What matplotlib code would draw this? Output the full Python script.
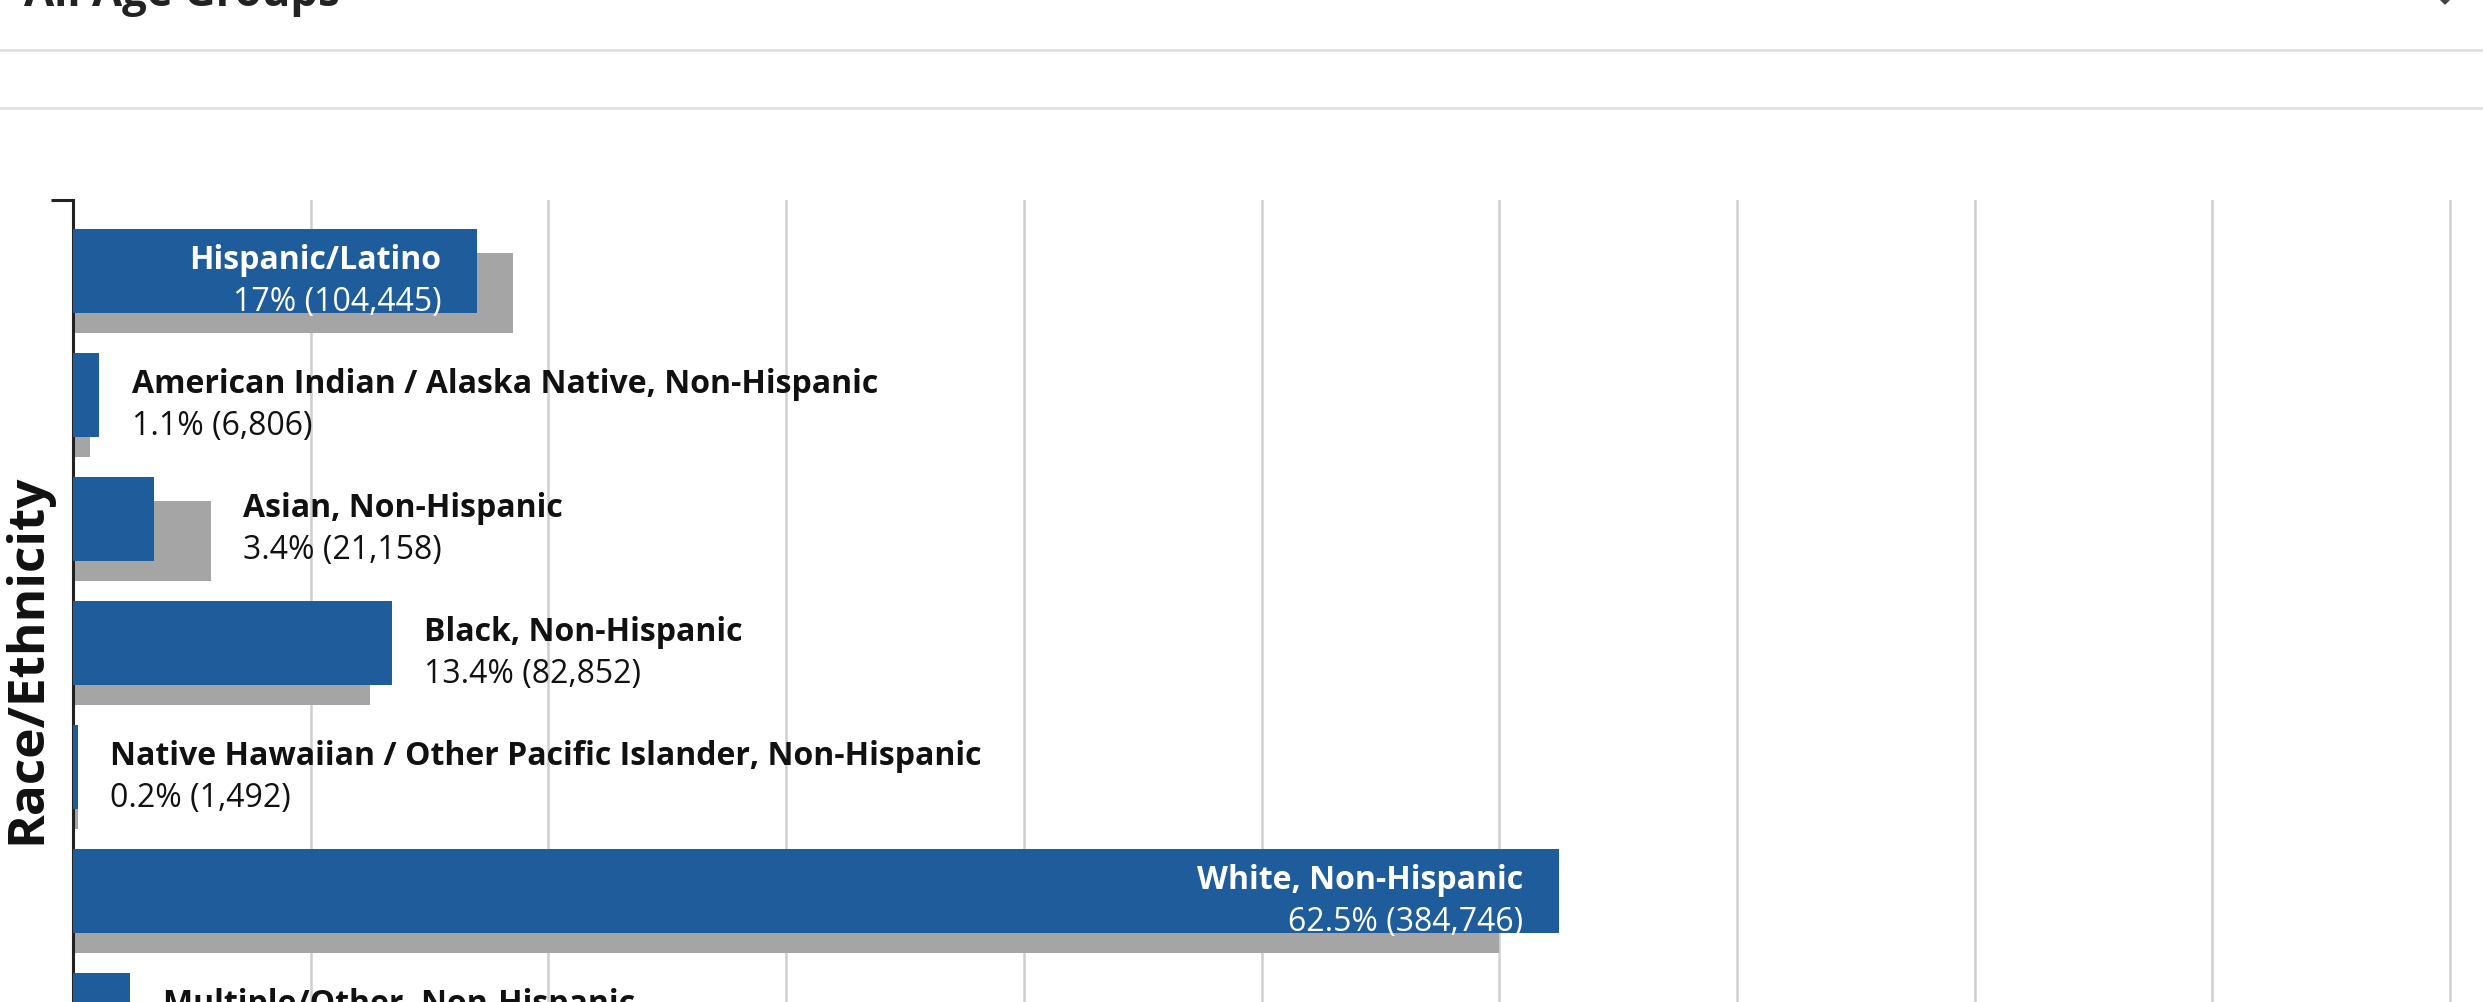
import matplotlib
matplotlib.use("Agg")
import matplotlib.pyplot as plt
from matplotlib.lines import Line2D
from matplotlib.patches import Polygon

# ---- data ----
categories = [
    "Hispanic/Latino",
    "American Indian / Alaska Native, Non-Hispanic",
    "Asian, Non-Hispanic",
    "Black, Non-Hispanic",
    "Native Hawaiian / Other Pacific Islander, Non-Hispanic",
    "White, Non-Hispanic",
    "Multiple/Other, Non-Hispanic",
]
pct = [17, 1.1, 3.4, 13.4, 0.2, 62.5, 2.4]
counts = [104445, 6806, 21158, 82852, 1492, 384746, 14100]
reference_pct = [18.5, 0.7, 5.8, 12.5, 0.2, 60.0, 2.2]
x_ticks = list(range(10, 101, 10))

BLUE = "#1F5C9B"
GRAY = "#A5A5A5"
TXT = "#111111"

plt.rcParams['font.family'] = ['Open Sans', 'DejaVu Sans']

W, H = 2483, 1003
fig = plt.figure(figsize=(W / 100, H / 100), dpi=100)

px_per_pct = 23.77
ax_left = 73
ax_top = 201
xmax = 101
ax_w = xmax * px_per_pct
ax = fig.add_axes([ax_left / W, 0, ax_w / W, 1 - ax_top / H])

row_px = 124.0
ax.set_ylim((H - ax_top) / row_px, 0)
ax.set_xlim(0, xmax)

n = len(categories)
rows = list(range(n))
ax.barh([r + 0.75 for r in rows], reference_pct, height=0.645, color=GRAY, zorder=2)
ax.barh([r + 0.573 for r in rows], pct, height=0.677, color=BLUE, zorder=3)

ax.set_xticks(x_ticks)
ax.set_xticklabels([])
ax.tick_params(axis='x', length=0)
ax.grid(axis='x', color='#cfcfcf', linewidth=1.8)
ax.set_axisbelow(True)

for s in ['top', 'right', 'bottom']:
    ax.spines[s].set_visible(False)
ax.spines['left'].set_color('#222222')
ax.spines['left'].set_linewidth(2.2)
ax.set_yticks([0])
ax.set_yticklabels([''])
ax.tick_params(axis='y', length=16, width=2.2, color='#222222')

pad_in = 1.5
pad_out = 1.37
fs = 23
for r, name, p, c, g in zip(rows, categories, pct, counts, reference_pct):
    val = f"{p:g}% ({c:,})"
    if p >= 15:
        x = p - pad_in
        ha = 'right'
        col = 'white'
    else:
        x = max(p, g) + pad_out
        ha = 'left'
        col = TXT
    ax.text(x, r + 0.552, name, ha=ha, va='baseline', fontsize=fs,
            fontweight='bold', color=col, zorder=5)
    ax.text(x, r + 0.886, val, ha=ha, va='baseline', fontsize=fs,
            color=col, zorder=5)

fig.text(27.5 / W, 1 - 659 / H, "Race/Ethnicity", rotation=90, ha='center',
         va='center', fontsize=37, fontweight='bold', color=TXT)

# header area
fig.text(24 / W, 1 - 6 / H, "All Age Groups", ha='left', va='baseline',
         fontsize=31.5, fontweight='bold', color='#222222')
for yy in (50.7, 109):
    fig.add_artist(Line2D([0, 1], [1 - yy / H] * 2, color='#e0e0e0',
                          linewidth=2.0, transform=fig.transFigure))
fig.add_artist(Polygon([[(2436) / W, 1 + 4 / H], [(2454) / W, 1 + 4 / H],
                        [2445 / W, 1 - 5 / H]], closed=True,
                       color='#444444', transform=fig.transFigure))

fig.savefig("out.png", dpi=100, facecolor='white')
